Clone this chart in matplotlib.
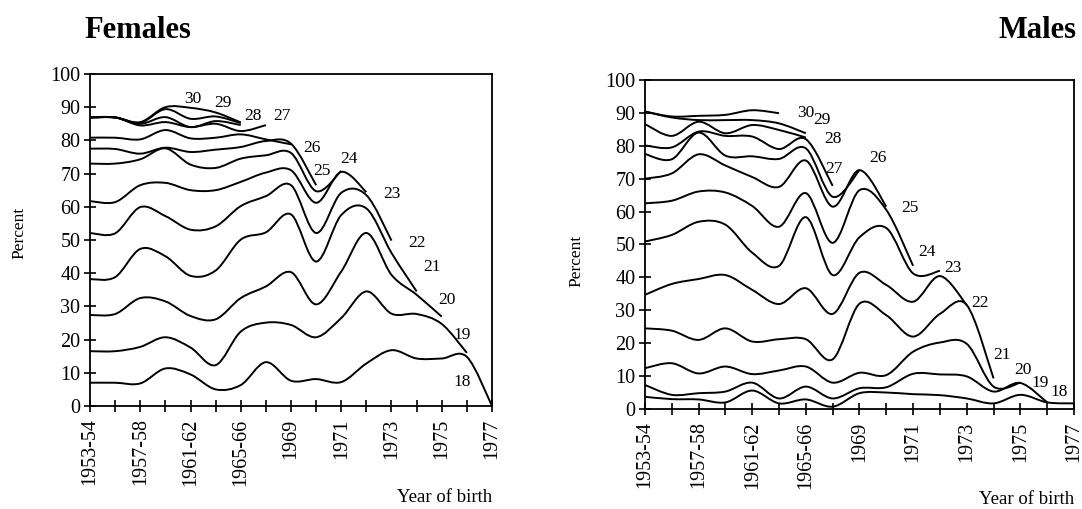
import numpy as np
import matplotlib.pyplot as plt
from matplotlib.path import Path
from matplotlib.patches import PathPatch

plt.rcParams['font.family'] = ['Liberation Serif', 'DejaVu Serif']

years = ["1953-54", "1955-56", "1957-58", "1959-60", "1961-62", "1963-64",
         "1965-66", "1967-68", "1969", "1970", "1971", "1972", "1973",
         "1974", "1975", "1976", "1977"]
year_labels = [y if i % 2 == 0 else "" for i, y in enumerate(years)]
ages = [18, 19, 20, 21, 22, 23, 24, 25, 26, 27, 28, 29, 30]

# females, percent by age reached (each series stops at the last cohort observed)
f18 = [7.0, 7.0, 6.8, 11.3, 9.5, 5.0, 6.3, 13.2, 7.6, 8.1, 7.2, 12.8, 16.8, 14.3, 14.3, 14.8, 0.0]
f19 = [16.5, 16.5, 17.8, 20.7, 17.6, 12.3, 22.4, 25.1, 24.4, 20.7, 26.5, 34.5, 27.8, 27.7, 24.7, 16.0]
f20 = [27.4, 27.7, 32.5, 31.5, 27.1, 26.1, 32.5, 36.0, 40.3, 30.6, 40.5, 52.1, 39.5, 33.5, 26.9]
f21 = [38.2, 38.8, 47.3, 45.1, 39.2, 40.8, 50.1, 52.3, 57.7, 43.5, 57.5, 59.5, 46.1, 34.5]
f22 = [52.1, 52.0, 59.9, 57.2, 53.1, 54.1, 60.2, 63.2, 66.5, 52.1, 64.2, 63.5, 49.8]
f23 = [61.7, 61.4, 66.5, 67.2, 65.0, 65.0, 67.5, 70.3, 71.0, 61.2, 70.5, 64.4]
f24 = [73.0, 73.0, 74.3, 77.6, 72.7, 71.7, 74.5, 75.5, 76.2, 64.7, 70.8]
f25 = [77.5, 77.4, 76.0, 77.8, 76.5, 77.2, 78.0, 79.8, 79.0, 66.5]
f26 = [80.8, 80.8, 80.3, 83.1, 80.6, 80.8, 81.8, 80.3, 78.8]
f27 = [86.9, 86.9, 84.5, 85.5, 84.0, 85.0, 82.8, 84.6]
f28 = [86.9, 86.9, 85.0, 87.0, 84.0, 85.8, 84.6]
f29 = [86.9, 86.9, 85.3, 89.4, 86.5, 87.2, 85.2]
f30 = [86.9, 86.9, 85.5, 90.0, 89.8, 88.4, 85.4]

# males
m18 = [3.7, 3.0, 2.9, 2.0, 5.6, 1.7, 2.9, 0.7, 4.8, 5.0, 4.5, 4.2, 3.2, 1.7, 4.3, 2.0, 1.7]
m19 = [7.3, 4.3, 4.8, 5.3, 8.0, 3.2, 6.8, 3.2, 6.3, 6.6, 10.7, 10.5, 9.9, 5.3, 7.9, 2.0]
m20 = [12.4, 13.9, 10.8, 12.9, 10.6, 11.7, 12.9, 8.0, 11.0, 10.3, 17.4, 20.2, 19.8, 6.8, 8.0]
m21 = [24.5, 23.8, 21.0, 24.5, 20.5, 21.2, 21.2, 15.1, 32.0, 28.5, 22.0, 28.9, 31.6, 9.3]
m22 = [34.7, 38.0, 39.5, 40.7, 36.2, 31.9, 36.7, 28.9, 41.4, 37.7, 32.6, 40.4, 31.6]
m23 = [50.9, 52.9, 56.9, 56.0, 47.5, 43.5, 58.3, 40.7, 52.2, 55.0, 41.2, 42.0]
m24 = [62.5, 63.3, 66.1, 65.8, 61.7, 55.4, 65.6, 50.5, 66.5, 60.5, 43.5]
m25 = [70.0, 71.6, 77.4, 74.0, 70.5, 67.5, 75.5, 61.5, 72.6, 61.5]
m26 = [77.5, 75.9, 84.0, 77.0, 76.8, 76.0, 79.2, 64.5, 72.6]
m27 = [80.1, 79.5, 84.3, 83.0, 82.8, 79.0, 82.0, 67.8]
m28 = [86.6, 83.0, 87.3, 83.8, 86.3, 84.8, 82.5]
m29 = [90.4, 88.6, 87.8, 87.8, 87.8, 86.8, 83.8]
m30 = [90.4, 88.9, 89.1, 89.4, 90.8, 89.9]

female_series = [f18, f19, f20, f21, f22, f23, f24, f25, f26, f27, f28, f29, f30]
male_series = [m18, m19, m20, m21, m22, m23, m24, m25, m26, m27, m28, m29, m30]

# where the age tags sit (category index, percent)
female_tags = [(14.8, 7.2), (14.8, 21.4), (14.2, 31.9), (13.6, 41.9), (13.0, 49.2),
               (12.0, 63.7), (10.3, 74.3), (9.25, 70.7), (8.85, 77.6), (7.65, 87.3),
               (6.5, 87.3), (5.3, 91.4), (4.1, 92.6)]
male_tags = [(15.45, 5.2), (14.75, 7.9), (14.1, 11.9), (13.3, 16.4), (12.5, 32.2),
             (11.5, 42.9), (10.5, 47.7), (9.9, 61.1), (8.7, 76.3), (7.05, 72.9),
             (7.0, 82.1), (6.6, 87.8), (6.0, 90.0)]


def smooth_path(values):
    # Bezier curve through the points, same style as a spreadsheet "smoothed line"
    pts = np.column_stack([np.arange(len(values)), values]).astype(float)
    n = len(pts)
    verts = [pts[0]]
    codes = [Path.MOVETO]
    for i in range(n - 1):
        p0 = pts[max(i - 1, 0)]
        p1 = pts[i]
        p2 = pts[i + 1]
        p3 = pts[min(i + 2, n - 1)]
        verts += [p1 + (p2 - p0) / 6, p2 - (p3 - p1) / 6, p2]
        codes += [Path.CURVE4] * 3
    return Path(verts, codes)


def draw_panel(ax, series, tags, title, title_x, title_ha, ylab_pos):
    for vals in series:
        ax.add_patch(PathPatch(smooth_path(vals), fill=False, lw=1.4,
                               edgecolor='black', capstyle='butt'))
    for age, (tx, ty) in zip(ages, tags):
        ax.text(tx, ty, str(age), fontsize=12.5, ha='center', va='center')

    ax.set_xlim(0, len(years) - 1)
    ax.set_ylim(0, 100)
    ax.set_xticks(range(len(years)))
    ax.set_xticklabels(year_labels, rotation=90, fontsize=14.5)
    ax.set_yticks(range(0, 101, 10))
    ax.tick_params(axis='both', direction='inout', length=8, width=1.2, pad=3)
    ax.tick_params(axis='x', pad=5)
    ax.tick_params(axis='y', labelsize=14.5)
    for sp in ax.spines.values():
        sp.set_linewidth(1.3)
    ax.set_ylabel("Percent", fontsize=12.5)
    ax.yaxis.set_label_coords(*ylab_pos)
    ax.set_xlabel("Year of birth", fontsize=13.5, ha='right', va='top')
    ax.xaxis.set_label_coords(1.0, -0.25)
    fig.text(title_x, 0.94, title, fontsize=22, fontweight='bold', ha=title_ha,
             va='center')


fig = plt.figure(figsize=(10.82, 5.09), dpi=100)
ax_f = fig.add_axes([0.0832, 0.2024, 0.3715, 0.6523])
ax_m = fig.add_axes([0.5961, 0.1965, 0.3965, 0.6464])

draw_panel(ax_f, female_series, female_tags, "Females", 0.078, 'left', (-0.155, 0.52))
draw_panel(ax_m, male_series, male_tags, "Males", 0.995, 'right', (-0.14, 0.45))

fig.savefig("out.png", dpi=100)
